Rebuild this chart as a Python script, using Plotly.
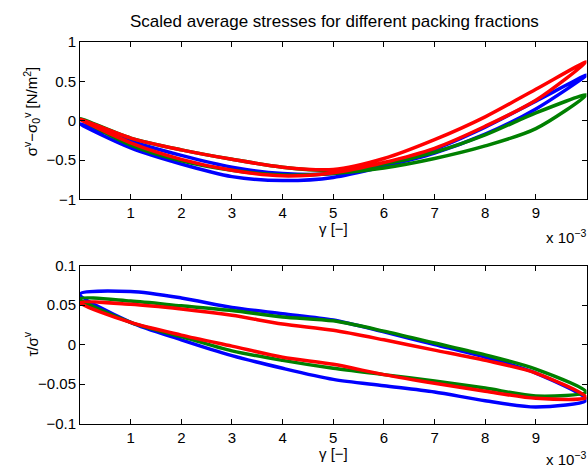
import plotly.graph_objects as go

# strain gamma (units of 1e-3 converted to real values below)
gamma_k = [0, 1, 2, 3, 4, 5, 6, 7, 8, 9, 10]

# Top panel: sigma^v - sigma_0^v  (two branches per loop)
top_blue_up = [-0.04, -0.26, -0.44, -0.59, -0.67, -0.67, -0.54, -0.36, -0.08, 0.25, 0.58]
top_blue_lo = [-0.04, -0.345, -0.55, -0.71, -0.76, -0.72, -0.58, -0.41, -0.17, 0.15, 0.58]
top_green_up = [0.03, -0.22, -0.37, -0.49, -0.59, -0.63, -0.55, -0.40, -0.18, 0.10, 0.33]
top_green_lo = [0.03, -0.31, -0.51, -0.63, -0.69, -0.67, -0.60, -0.48, -0.32, -0.10, 0.33]
top_red_up = [0.02, -0.22, -0.37, -0.49, -0.59, -0.62, -0.48, -0.24, 0.05, 0.40, 0.75]
top_red_lo = [0.02, -0.28, -0.49, -0.63, -0.70, -0.66, -0.53, -0.35, -0.07, 0.26, 0.75]

# Bottom panel: tau / sigma^v
bot_blue_up = [0.064, 0.067, 0.059, 0.047, 0.039, 0.031, 0.016, 0.000, -0.016, -0.036, -0.070]
bot_blue_lo = [0.064, 0.028, 0.006, -0.014, -0.030, -0.044, -0.052, -0.060, -0.071, -0.079, -0.070]
bot_green_up = [0.058, 0.055, 0.049, 0.043, 0.035, 0.030, 0.017, 0.002, -0.013, -0.031, -0.060]
bot_green_lo = [0.058, 0.028, 0.010, -0.008, -0.020, -0.030, -0.038, -0.046, -0.055, -0.065, -0.060]
bot_red_up = [0.053, 0.051, 0.045, 0.037, 0.026, 0.018, 0.006, -0.007, -0.020, -0.036, -0.067]
bot_red_lo = [0.053, 0.028, 0.012, -0.002, -0.016, -0.025, -0.038, -0.049, -0.059, -0.068, -0.067]

x_tickvals = [0.001, 0.002, 0.003, 0.004, 0.005, 0.006, 0.007, 0.008, 0.009]
x_ticktext = ["1", "2", "3", "4", "5", "6", "7", "8", "9"]
top_yticks = [-1, -0.5, 0, 0.5, 1]
top_yticktext = ["\u22121", "\u22120.5", "0", "0.5", "1"]
bot_yticks = [-0.1, -0.05, 0, 0.05, 0.1]
bot_yticktext = ["\u22120.1", "\u22120.05", "0", "0.05", "0.1"]

colors = {"blue": "#0000ff", "green": "#008000", "red": "#ff0000"}

g = [v * 1e-3 for v in gamma_k]


def loop(up, lo):
    xs = g + g[::-1][1:]
    ys = up + lo[::-1][1:]
    return xs, ys


fig = go.Figure()
for name, up, lo in [("blue", top_blue_up, top_blue_lo),
                     ("green", top_green_up, top_green_lo),
                     ("red", top_red_up, top_red_lo)]:
    xs, ys = loop(up, lo)
    fig.add_trace(go.Scatter(x=xs, y=ys, mode="lines", xaxis="x", yaxis="y",
                             line=dict(color=colors[name], width=3.5, shape="spline", smoothing=0.8),
                             showlegend=False))
for name, up, lo in [("blue", bot_blue_up, bot_blue_lo),
                     ("green", bot_green_up, bot_green_lo),
                     ("red", bot_red_up, bot_red_lo)]:
    xs, ys = loop(up, lo)
    fig.add_trace(go.Scatter(x=xs, y=ys, mode="lines", xaxis="x2", yaxis="y2",
                             line=dict(color=colors[name], width=3.5, shape="spline", smoothing=0.8),
                             showlegend=False))

W, H = 588, 476
xl, xr = 80 / W, 586.5 / W
top_dom = [(H - 197.5) / H, (H - 34.3) / H]
bot_dom = [(H - 430) / H, (H - 266) / H]

FS = 15
FAM = "Liberation Sans, Arial, Helvetica"
axis_common = dict(showline=True, linecolor="black", linewidth=1, mirror="ticks",
                   ticks="inside", ticklen=5, tickcolor="black", showgrid=False,
                   zeroline=False, tickfont=dict(family=FAM, size=FS, color="black"))

fig.update_layout(
    width=W, height=H, margin=dict(l=0, r=0, t=0, b=0),
    paper_bgcolor="white", plot_bgcolor="white",
    font=dict(family=FAM, size=FS, color="black"),
    xaxis=dict(domain=[xl, xr], anchor="y", range=[0, 0.01], tickvals=x_tickvals,
               ticktext=x_ticktext, **axis_common),
    yaxis=dict(domain=top_dom, anchor="x", range=[-1, 1], tickvals=top_yticks,
               ticktext=top_yticktext, **axis_common),
    xaxis2=dict(domain=[xl, xr], anchor="y2", range=[0, 0.01], tickvals=x_tickvals,
                ticktext=x_ticktext, **axis_common),
    yaxis2=dict(domain=bot_dom, anchor="x2", range=[-0.1, 0.1], tickvals=bot_yticks,
                ticktext=bot_yticktext, **axis_common),
)

ann_font = dict(family=FAM, size=FS, color="black")
fig.add_annotation(text="Scaled average stresses for different packing fractions",
                   x=334 / W, y=1 - 13 / H, xref="paper", yref="paper", showarrow=False,
                   font=dict(family=FAM, size=17, color="black"), xanchor="center", yanchor="middle")
fig.add_annotation(text="\u03b3 [\u2212]", x=333 / W, y=1 - 228 / H, xref="paper", yref="paper",
                   showarrow=False, font=ann_font, xanchor="center", yanchor="middle")
fig.add_annotation(text="\u03b3 [\u2212]", x=333 / W, y=1 - 461 / H, xref="paper", yref="paper",
                   showarrow=False, font=ann_font, xanchor="center", yanchor="middle")
fig.add_annotation(text="x 10<sup>\u22123</sup>", x=588 / W, y=1 - 236 / H, xref="paper", yref="paper",
                   showarrow=False, font=ann_font, xanchor="right", yanchor="middle")
fig.add_annotation(text="x 10<sup>\u22123</sup>", x=588 / W, y=1 - 466 / H, xref="paper", yref="paper",
                   showarrow=False, font=ann_font, xanchor="right", yanchor="middle")
fig.add_annotation(text="\u03c3<sup>v</sup>\u2212\u03c3<sub>0</sub><sup>v</sup> [N/m<sup>2</sup>]",
                   x=31 / W, y=1 - 106 / H, xref="paper", yref="paper", showarrow=False,
                   font=ann_font, textangle=-90, xanchor="center", yanchor="middle")
fig.add_annotation(text="\u03c4/\u03c3<sup>v</sup>",
                   x=31 / W, y=1 - 348 / H, xref="paper", yref="paper", showarrow=False,
                   font=ann_font, textangle=-90, xanchor="center", yanchor="middle")

fig.write_html("out.html")
